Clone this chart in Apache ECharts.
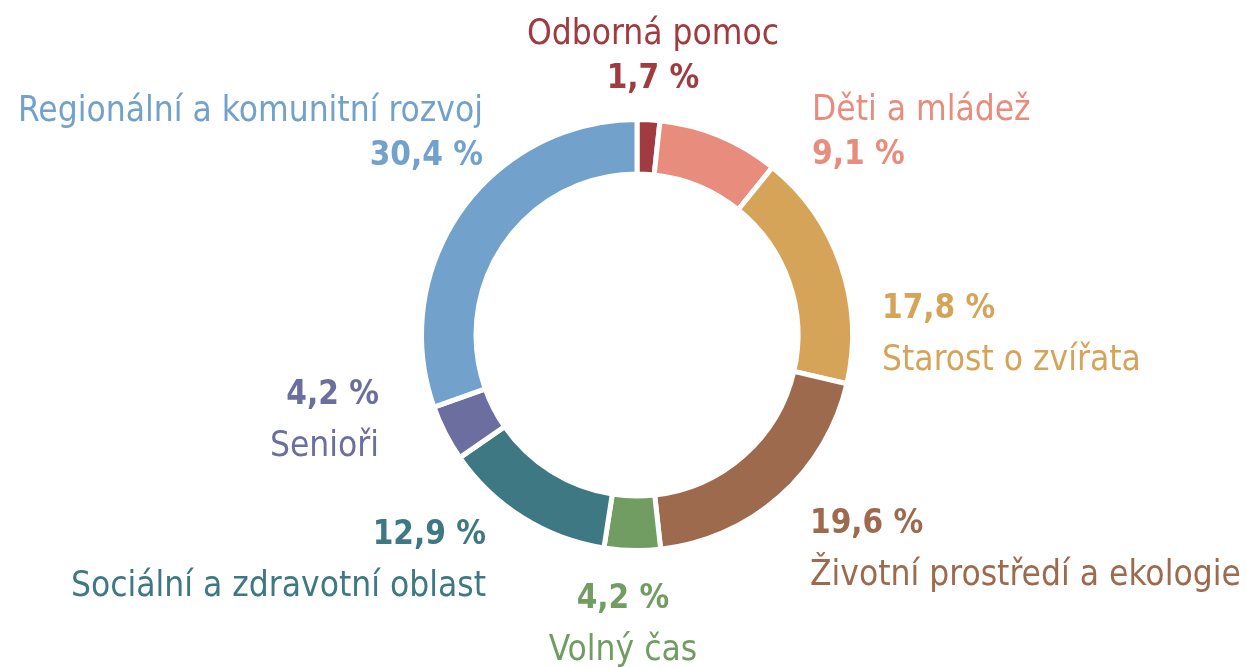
<!DOCTYPE html>
<html>
<head>
<meta charset="utf-8">
<script src="https://cdn.jsdelivr.net/npm/echarts@6/dist/echarts.min.js"></script>
<style>
html, body { margin: 0; padding: 0; background: #fff; }
#chart { width: 1246px; height: 667px; }
</style>
</head>
<body>
<div id="chart"></div>
<script>
var kategorie = ['Odborná pomoc', 'Děti a mládež', 'Starost o zvířata', 'Životní prostředí a ekologie',
    'Volný čas', 'Sociální a zdravotní oblast', 'Senioři', 'Regionální a komunitní rozvoj'];
var podil = [1.7, 9.1, 17.8, 19.6, 4.2, 12.9, 4.2, 30.4];
var barvy = ['#a03c40', '#e88c7e', '#d6a459', '#9e6a4e', '#719d63', '#3e7882', '#6b6e9e', '#72a2cc'];

// where each label block sits: [x, y of block middle, align, name on top?]
var popisky = [
    [653, 57, 'center', true],
    [812, 133, 'left', true],
    [882, 335, 'left', false],
    [810, 550, 'left', false],
    [623, 625, 'center', false],
    [486, 561, 'right', false],
    [379, 421, 'right', false],
    [483, 134, 'right', true]
];

var font = '"Liberation Sans Narrow", "DejaVu Sans Condensed", sans-serif';

function pct(v) {
    return v.toFixed(1).replace('.', ',') + ' %';
}

var data = [];
for (var i = 0; i < kategorie.length; i++) {
    var nameFirst = popisky[i][3];
    data.push({
        name: kategorie[i],
        value: podil[i],
        itemStyle: { color: barvy[i] },
        label: {
            color: barvy[i],
            formatter: nameFirst ? '{n1|{b}}\n{p1|' + pct(podil[i]) + '}' : '{p2|' + pct(podil[i]) + '}\n{n2|{b}}'
        }
    });
}

var chart = echarts.init(document.getElementById('chart'));
chart.setOption({
    animation: false,
    series: [{
        type: 'pie',
        center: [637, 335],
        radius: [161, 215.5],
        startAngle: 90,
        clockwise: true,
        avoidLabelOverlap: false,
        itemStyle: {
            borderColor: '#fff',
            borderWidth: 5
        },
        label: {
            show: true,
            position: 'outside',
            fontFamily: font,
            rich: {
                n1: { fontFamily: font, fontSize: 35, lineHeight: 45 },
                p1: { fontFamily: font, fontSize: 33, fontWeight: 'bold', lineHeight: 45 },
                n2: { fontFamily: font, fontSize: 35, lineHeight: 52 },
                p2: { fontFamily: font, fontSize: 33, fontWeight: 'bold', lineHeight: 52 }
            }
        },
        labelLine: { show: false },
        labelLayout: function (params) {
            var p = popisky[params.dataIndex];
            return { x: p[0], y: p[1], align: p[2], verticalAlign: 'middle' };
        },
        emphasis: { disabled: true },
        data: data
    }]
});
</script>
</body>
</html>
